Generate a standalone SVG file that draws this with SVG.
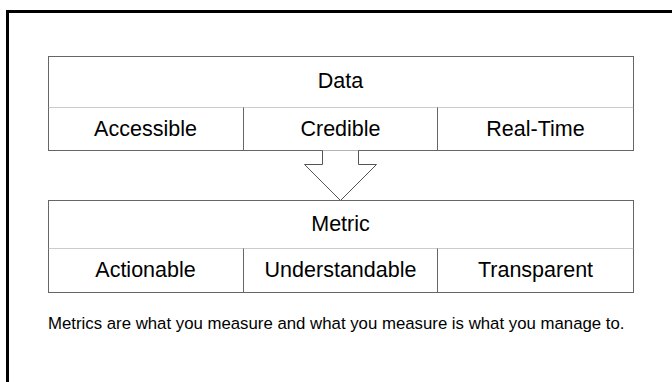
<svg xmlns="http://www.w3.org/2000/svg" width="672" height="382" viewBox="0 0 672 382">
<style>
  .frame{fill:none;stroke:#000;stroke-width:3}
  .box{fill:#fff;stroke:#666;stroke-width:1}
  .div{stroke:#666;stroke-width:1;fill:none}
  .hdiv{stroke:#999;stroke-width:1;stroke-dasharray:1 1;fill:none}
  .lbl{font-family:"Liberation Sans",Arial,sans-serif;font-size:21.5px;fill:#000;text-anchor:middle}
  .foot{font-family:"Liberation Sans",Arial,sans-serif;font-size:16.8px;fill:#000}
  .arrow{fill:#fff;stroke:#555;stroke-width:1}
</style>
<rect width="672" height="382" fill="#fff"/>
<rect class="frame" x="7.5" y="11.5" width="700" height="400"/>
<g id="data">
  <rect class="box" x="48.5" y="56.5" width="585" height="94"/>
  <line class="hdiv" x1="48.5" y1="107.5" x2="633.5" y2="107.5"/>
  <line class="div" x1="243.5" y1="107.5" x2="243.5" y2="150.5"/>
  <line class="div" x1="437.5" y1="107.5" x2="437.5" y2="150.5"/>
  <text class="lbl" x="340.5" y="88">Data</text>
  <text class="lbl" x="145.5" y="136">Accessible</text>
  <text class="lbl" x="340.5" y="136">Credible</text>
  <text class="lbl" x="535.5" y="136">Real-Time</text>
</g>
<g id="connectors">
  <path class="arrow" d="M322.5,150.5 L322.5,164.5 L304.5,164.5 L340.5,200.5 L376.5,164.5 L358.5,164.5 L358.5,150.5"/>
</g>
<g id="metric">
  <rect class="box" x="48.5" y="200.5" width="585" height="92"/>
  <line class="hdiv" x1="48.5" y1="248.5" x2="633.5" y2="248.5"/>
  <line class="div" x1="243.5" y1="248.5" x2="243.5" y2="292.5"/>
  <line class="div" x1="437.5" y1="248.5" x2="437.5" y2="292.5"/>
  <text class="lbl" x="340.5" y="231">Metric</text>
  <text class="lbl" x="145.5" y="277">Actionable</text>
  <text class="lbl" x="340.5" y="277">Understandable</text>
  <text class="lbl" x="535.5" y="277">Transparent</text>
</g>
<text class="foot" x="48" y="328.5">Metrics are what you measure and what you measure is what you manage to.</text>
</svg>
